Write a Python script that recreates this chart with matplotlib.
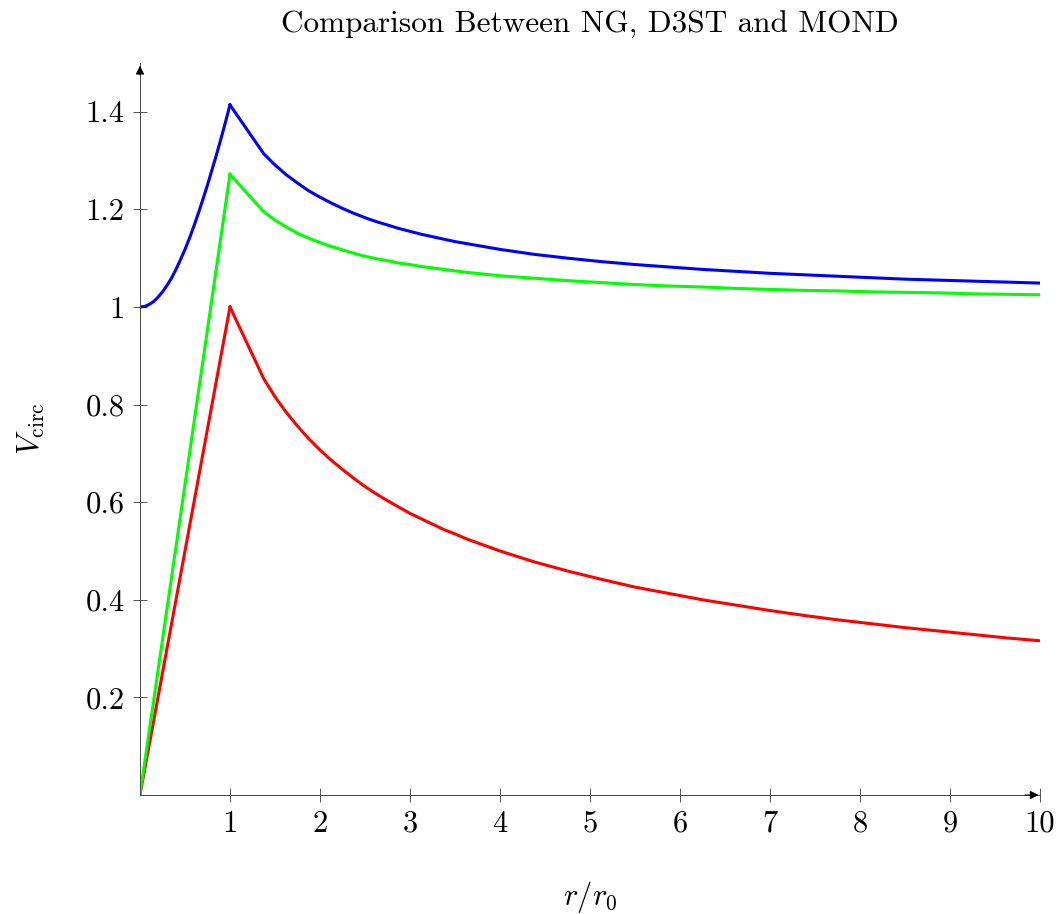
import matplotlib.pyplot as plt

plt.rcParams['font.family'] = 'serif'
plt.rcParams['font.serif'] = ['cmr10', 'DejaVu Serif']
plt.rcParams['mathtext.fontset'] = 'cm'
plt.rcParams['axes.unicode_minus'] = False

# inner region r < 1
r_in = [0.0, 0.05, 0.1, 0.15, 0.2, 0.25, 0.3, 0.35, 0.4, 0.45, 0.5,
        0.55, 0.6, 0.65, 0.7, 0.75, 0.8, 0.85, 0.9, 0.95, 1.0]
d3st_in = [1.000, 1.001, 1.005, 1.011, 1.020, 1.031, 1.044, 1.059, 1.077, 1.097, 1.118,
           1.141, 1.166, 1.193, 1.221, 1.250, 1.281, 1.312, 1.345, 1.379, 1.414]
r_lin = [0.0, 1.0]
ng_in = [0.0, 1.0]
mond_in = [0.0, 1.272]

# outer region r >= 1
r_out = [1.0, 1.375, 1.5, 1.625, 1.75, 1.875, 2.0, 2.125, 2.25, 2.375, 2.5, 2.625, 2.75,
         2.875, 3.0, 3.125, 3.25, 3.375, 3.5, 3.625, 4.0, 4.375, 4.75, 5.125, 5.5,
         5.875, 6.25, 6.625, 7.0, 7.375, 7.75, 8.125, 8.5, 8.875, 9.25, 9.625, 10.0]
ng_out = [1.000, 0.853, 0.816, 0.784, 0.756, 0.730, 0.707, 0.686, 0.667, 0.649, 0.632, 0.617, 0.603,
          0.590, 0.577, 0.566, 0.555, 0.544, 0.535, 0.525, 0.500, 0.478, 0.459, 0.442, 0.426,
          0.413, 0.400, 0.389, 0.378, 0.368, 0.359, 0.351, 0.343, 0.336, 0.329, 0.322, 0.316]
d3st_out = [1.414, 1.314, 1.291, 1.271, 1.254, 1.238, 1.225, 1.213, 1.202, 1.192, 1.183, 1.175, 1.168,
            1.161, 1.155, 1.149, 1.144, 1.139, 1.134, 1.130, 1.118, 1.108, 1.100, 1.093, 1.087,
            1.082, 1.077, 1.073, 1.069, 1.066, 1.063, 1.060, 1.057, 1.055, 1.053, 1.051, 1.049]
mond_out = [1.272, 1.195, 1.178, 1.164, 1.151, 1.141, 1.132, 1.124, 1.117, 1.110, 1.104, 1.099, 1.095,
            1.090, 1.087, 1.083, 1.080, 1.077, 1.074, 1.071, 1.064, 1.059, 1.054, 1.050, 1.046,
            1.043, 1.041, 1.038, 1.036, 1.034, 1.033, 1.031, 1.030, 1.029, 1.027, 1.026, 1.025]

x_ticks = [1, 2, 3, 4, 5, 6, 7, 8, 9, 10]
y_ticks = [0.2, 0.4, 0.6, 0.8, 1.0, 1.2, 1.4]
y_labels = ['0.2', '0.4', '0.6', '0.8', '1', '1.2', '1.4']

fig = plt.figure(figsize=(10.58, 9.14), dpi=100)
ax = fig.add_axes([0.1323, 0.1302, 0.8507, 0.8009])

lw = 2.2
ax.plot(r_lin, ng_in, color=(1, 0, 0), lw=lw)
ax.plot(r_out, ng_out, color=(1, 0, 0), lw=lw)
ax.plot(r_lin, mond_in, color=(0, 1, 0), lw=lw)
ax.plot(r_out, mond_out, color=(0, 1, 0), lw=lw)
ax.plot(r_in, d3st_in, color=(0, 0, 1), lw=lw)
ax.plot(r_out, d3st_out, color=(0, 0, 1), lw=lw)

ax.set_xlim(0, 10)
ax.set_ylim(0, 1.5)
for s in ['top', 'right']:
    ax.spines[s].set_visible(False)
for s in ['left', 'bottom']:
    ax.spines[s].set_linewidth(0.7)
    ax.spines[s].set_color('#444444')

ax.set_xticks(x_ticks)
ax.set_xticklabels([str(t) for t in x_ticks])
ax.set_yticks(y_ticks)
ax.set_yticklabels(y_labels)
ax.tick_params(direction='inout', length=10, width=0.7, color='#555555',
               labelsize=22, pad=6)

# axis arrows
ax.annotate('', xy=(1.0015, 0), xytext=(0.98, 0), xycoords='axes fraction',
            arrowprops=dict(arrowstyle='-|>', color='k', lw=0.7, mutation_scale=13))
ax.annotate('', xy=(0, 1.0), xytext=(0, 0.98), xycoords='axes fraction',
            arrowprops=dict(arrowstyle='-|>', color='k', lw=0.7, mutation_scale=13))

ax.set_title('Comparison Between NG, D3ST and MOND', fontsize=22.5, pad=22)
ax.set_xlabel(r'$r/r_0$', fontsize=22, labelpad=30)
ax.set_ylabel(r'$V_{\rm circ}$', fontsize=22, labelpad=28)

fig.savefig('out.png', dpi=100)
